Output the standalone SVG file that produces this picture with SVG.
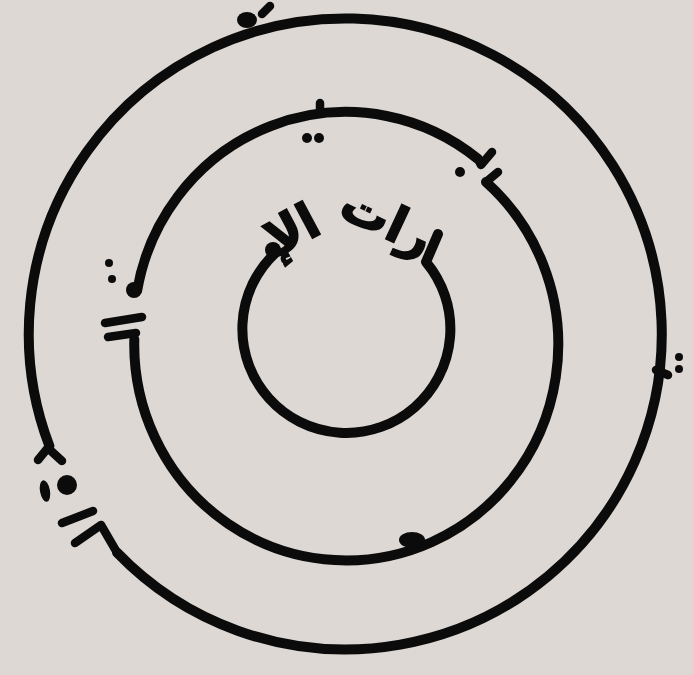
<svg xmlns="http://www.w3.org/2000/svg" width="693" height="675" viewBox="0 0 693 675">
<style>
.ring{fill:none;stroke:#0b0b0b;stroke-width:10;stroke-linecap:round;stroke-linejoin:round}
.mark{fill:none;stroke:#0b0b0b;stroke-width:8.5;stroke-linecap:round;stroke-linejoin:round}
.dot{fill:#0b0b0b}
.ar{font-family:"DejaVu Sans",sans-serif;font-weight:bold;font-size:50px;fill:#0b0b0b;text-anchor:middle;stroke:#0b0b0b;stroke-width:1.5}
</style>
<rect width="693" height="675" fill="#ddd8d3"/>
<g id="outer-ring">
<path class="ring" d="M 117 552.5 A 316.5 315.5 0 1 0 49.4 446"/>
<path class="mark" d="M 49.4 446 L 38 460 M 50 450 L 62 461"/>
<circle class="dot" cx="67" cy="485" r="10"/>
<ellipse class="dot" cx="45" cy="491" rx="5" ry="11" transform="rotate(-10 45 491)"/>
<path class="mark" d="M 62 523 L 93 511"/>
<path class="mark" d="M 75 543 L 101 525 L 117 552.5"/>
<ellipse class="dot" cx="247" cy="20" rx="10" ry="8"/>
<path class="mark" d="M 262 14 L 270 6"/>
<path class="mark" d="M 656 370 L 668 375"/>
<circle class="dot" cx="679" cy="357" r="4"/>
<circle class="dot" cx="679" cy="369" r="4"/>
</g>
<g id="middle-ring">
<path class="ring" d="M 137.2 290.5 A 212 216 0 0 1 478 159"/>
<path class="ring" d="M 486 182 A 212 216 0 1 1 134.3 339.3"/>
<circle class="dot" cx="134" cy="290" r="8"/>
<circle class="dot" cx="109" cy="263" r="4"/>
<circle class="dot" cx="112" cy="279" r="4"/>
<path class="mark" d="M 105 323 L 142 317"/>
<path class="mark" d="M 108 337 L 136 333"/>
<path class="mark" d="M 320 112 L 320 103"/>
<circle class="dot" cx="307" cy="138" r="5"/>
<circle class="dot" cx="319" cy="138" r="5"/>
<path class="mark" d="M 478 159 L 481 165 L 492 152"/>
<circle class="dot" cx="460" cy="172" r="5"/>
<path class="mark" d="M 486 182 L 498 172"/>
<ellipse class="dot" cx="412" cy="540" rx="13" ry="8"/>
</g>
<g id="inner-ring">
<path class="ring" d="M 275.8 252.5 A 104 104 0 1 0 426 262 L 438 234"/>
<circle class="dot" cx="273" cy="250" r="8"/>
<text class="ar" x="0" y="0" transform="translate(300 245) rotate(-28)">الإ</text>
<text class="ar" x="0" y="0" transform="translate(380 236) rotate(25)">رات</text>
</g>
</svg>
